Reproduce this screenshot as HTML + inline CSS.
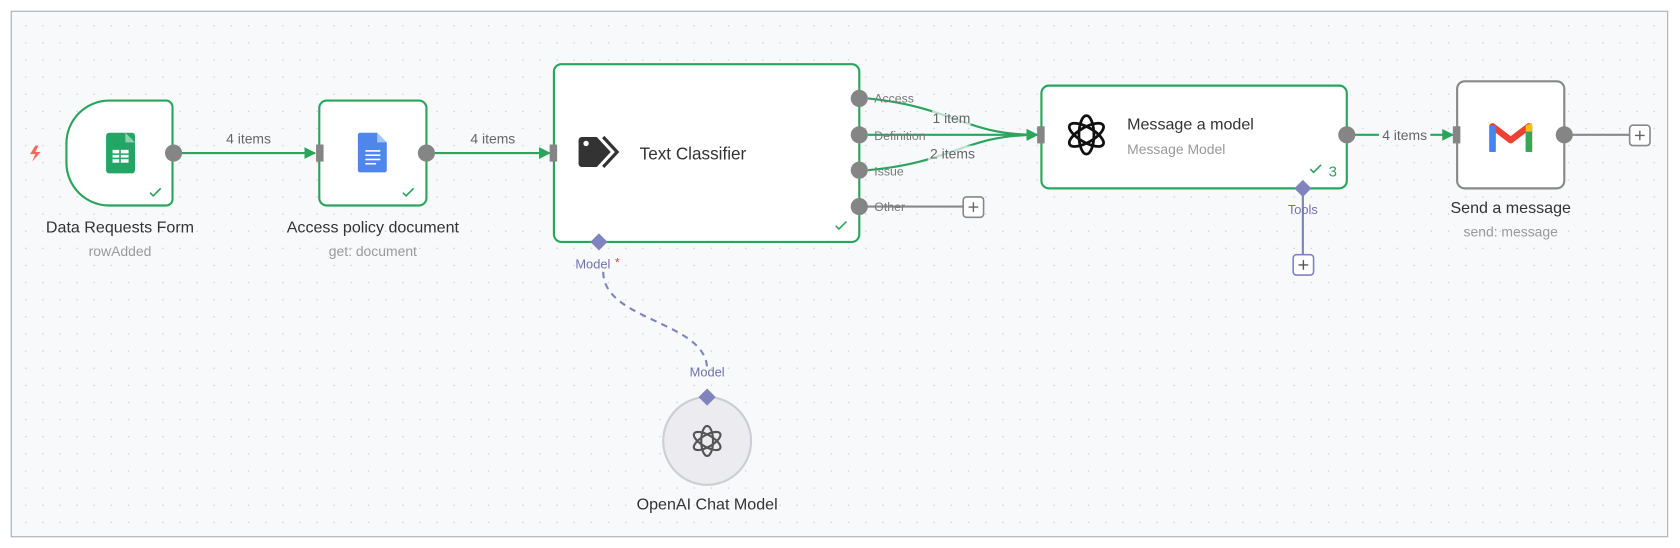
<!DOCTYPE html>
<html><head><meta charset="utf-8"><style>
html,body{margin:0;padding:0;background:#fff;}
svg{display:block;font-family:"Liberation Sans",sans-serif;}
</style></head><body>
<svg width="1680" height="548" viewBox="0 0 1568 512" preserveAspectRatio="none" xmlns="http://www.w3.org/2000/svg">
<defs>
<pattern id="dots" width="16" height="16" patternUnits="userSpaceOnUse"><circle cx="8" cy="8" r="0.7" fill="#c9ccd3"/></pattern>
<marker id="ag" viewBox="0 0 10 10" refX="9" refY="5" markerWidth="5.5" markerHeight="5.5" orient="auto"><path d="M0,0 L10,5 L0,10z" fill="#2aa55d"/></marker>
</defs>
<rect x="0" y="0" width="1568" height="512" fill="#fff"/>
<rect x="10.5" y="10.5" width="1546" height="491" fill="#f8f9fb" stroke="#aaa"/>
<rect x="11" y="11" width="1545" height="490" fill="url(#dots)"/>

<g stroke="#2aa55d" stroke-width="2" fill="none">
<line x1="162" y1="143" x2="294" y2="143" marker-end="url(#ag)"/>
<line x1="398" y1="143" x2="513" y2="143" marker-end="url(#ag)"/>
<path d="M810,92 C890,100 900,126 968,126" marker-end="url(#ag)"/>
<line x1="810" y1="126" x2="968" y2="126" marker-end="url(#ag)"/>
<path d="M810,159 C890,152 900,126 968,126" marker-end="url(#ag)"/>
<line x1="1257" y1="126" x2="1356" y2="126" marker-end="url(#ag)"/>
</g>
<line x1="802" y1="193" x2="899" y2="193" stroke="#888" stroke-width="2"/>
<line x1="1460" y1="126" x2="1521" y2="126" stroke="#888" stroke-width="2"/>
<line x1="1216" y1="176" x2="1216" y2="238" stroke="#8084bd" stroke-width="2"/>
<path d="M563,254 C563,300 660,300 660,345" stroke="#8084bd" stroke-width="2" stroke-dasharray="6,5" fill="none"/>

<g font-size="13" fill="#666" text-anchor="middle">
<rect x="208" y="120" width="48" height="16" fill="#f8f9fb"/><text x="232" y="134">4 items</text>
<rect x="436" y="120" width="48" height="16" fill="#f8f9fb"/><text x="460" y="134">4 items</text>
<rect x="870" y="103" width="36" height="14" fill="#f8f9fb" opacity="0.7"/><text x="888" y="115">1 item</text>
<rect x="866" y="136" width="46" height="14" fill="#f8f9fb" opacity="0.7"/><text x="889" y="148">2 items</text>
<rect x="1287" y="119" width="48" height="16" fill="#f8f9fb"/><text x="1311" y="131">4 items</text>
</g>

<path d="M102,94 H155 a6,6 0 0 1 6,6 V186 a6,6 0 0 1 -6,6 H102 a40,40 0 0 1 -40,-40 V134 a40,40 0 0 1 40,-40z" fill="#fff" stroke="#2aa55d" stroke-width="2"/>
<path d="M33,136 l-5,8 h5 l-3,7 l8,-9 h-5 l3,-6z" fill="#f56a5a"/>
<rect x="99" y="124" width="27" height="38" rx="3" fill="#23a566"/>
<path d="M117,124 l9,9 h-9z" fill="#8ed1b1"/>
<rect x="105" y="140" width="15" height="12" fill="#fff"/>
<g stroke="#23a566" stroke-width="1.5"><line x1="105" y1="144" x2="120" y2="144"/><line x1="105" y1="148" x2="120" y2="148"/><line x1="112" y1="140" x2="112" y2="152"/></g>
<path d="M140,180 l3,3 l7,-7" stroke="#2aa55d" stroke-width="1.5" fill="none"/>
<circle cx="162" cy="143" r="8" fill="#858585"/>
<text x="112" y="217" font-size="15" fill="#333" text-anchor="middle">Data Requests Form</text>
<text x="112" y="239" font-size="13" fill="#999" text-anchor="middle">rowAdded</text>

<rect x="298" y="94" width="100" height="98" rx="7" fill="#fff" stroke="#2aa55d" stroke-width="2"/>
<rect x="295" y="135" width="7" height="16" fill="#858585"/>
<path d="M336,124 h16 l9,9 v26 a2,2 0 0 1 -2,2 h-23 a2,2 0 0 1 -2,-2 v-33 a2,2 0 0 1 2,-2z" fill="#4f86ec"/>
<path d="M352,124 l9,9 h-9z" fill="#a6c5fa"/>
<g stroke="#fff" stroke-width="1.5"><line x1="341" y1="141" x2="355" y2="141"/><line x1="341" y1="145" x2="355" y2="145"/><line x1="341" y1="149" x2="355" y2="149"/><line x1="341" y1="153" x2="351" y2="153"/></g>
<path d="M376,180 l3,3 l7,-7" stroke="#2aa55d" stroke-width="1.5" fill="none"/>
<circle cx="398" cy="143" r="8" fill="#858585"/>
<text x="348" y="217" font-size="15" fill="#333" text-anchor="middle">Access policy document</text>
<text x="348" y="239" font-size="13" fill="#999" text-anchor="middle">get: document</text>

<rect x="517" y="60" width="285" height="166" rx="7" fill="#fff" stroke="#2aa55d" stroke-width="2"/>
<rect x="513" y="135" width="7" height="16" fill="#858585"/>
<path d="M543,128 h14 l13,14 l-13,14 h-14 a3,3 0 0 1 -3,-3 v-22 a3,3 0 0 1 3,-3z" fill="#333"/>
<circle cx="547" cy="134" r="2.5" fill="#fff"/>
<path d="M563,128 l13,14 l-13,14" stroke="#333" stroke-width="3" fill="none"/>
<text x="597" y="149" font-size="16" fill="#333">Text Classifier</text>
<path d="M780,211 l3,3 l7,-7" stroke="#2aa55d" stroke-width="1.5" fill="none"/>
<g fill="#858585"><circle cx="802" cy="92" r="8"/><circle cx="802" cy="126" r="8"/><circle cx="802" cy="159" r="8"/><circle cx="802" cy="193" r="8"/></g>
<g font-size="11.5" fill="#777"><text x="816" y="96">Access</text><text x="816" y="131">Definition</text><text x="816" y="164">Issue</text><text x="816" y="197">Other</text></g>
<rect x="899" y="184" width="19" height="19" rx="3" fill="#fff" stroke="#888" stroke-width="1.5"/>
<path d="M904,193.5 h9 M908.5,189 v9" stroke="#666" stroke-width="1.3"/>
<path d="M559,218 l8,8 l-8,8 l-8,-8z" fill="#8084bd"/>
<text x="537" y="251" font-size="12" fill="#6f73ad">Model</text><text x="574" y="249" font-size="11" fill="#e33">*</text>

<rect x="972" y="80" width="285" height="96" rx="7" fill="#fff" stroke="#2aa55d" stroke-width="2"/>
<rect x="968" y="118" width="7" height="16" fill="#858585"/>
<g transform="translate(1014,126)" stroke="#111" stroke-width="2.6" fill="none">
<ellipse rx="7" ry="18"/><ellipse rx="7" ry="18" transform="rotate(60)"/><ellipse rx="7" ry="18" transform="rotate(120)"/>
</g>
<text x="1052" y="121" font-size="15" fill="#333">Message a model</text>
<text x="1052" y="144" font-size="13" fill="#999">Message Model</text>
<path d="M1223,158 l3,3 l7,-7" stroke="#2aa55d" stroke-width="1.5" fill="none"/>
<text x="1240" y="165" font-size="14" fill="#2aa55d">3</text>
<circle cx="1257" cy="126" r="8" fill="#858585"/>
<path d="M1216,168 l8,8 l-8,8 l-8,-8z" fill="#8084bd"/>
<text x="1216" y="200" font-size="12" fill="#6f73ad" text-anchor="middle">Tools</text>
<rect x="1207" y="238" width="19" height="19" rx="3" fill="#fff" stroke="#8084bd" stroke-width="1.5"/>
<path d="M1212,247.5 h9 M1216.5,243 v9" stroke="#555" stroke-width="1.3"/>

<rect x="1360" y="76" width="100" height="100" rx="7" fill="#fff" stroke="#888" stroke-width="2"/>
<rect x="1356" y="118" width="7" height="16" fill="#858585"/>
<path d="M1393,141 v-23 l17,13 l17,-13 v23" stroke="#ea4335" stroke-width="6" fill="none" stroke-linejoin="round"/>
<rect x="1390" y="117" width="6" height="25" fill="#4285f4"/>
<rect x="1424" y="117" width="6" height="25" fill="#34a853"/>
<path d="M1424,117 l6,-2 v8 h-6z" fill="#fbbc04"/>
<circle cx="1460" cy="126" r="8" fill="#858585"/>
<rect x="1521" y="117" width="19" height="19" rx="3" fill="#fff" stroke="#888" stroke-width="1.5"/>
<path d="M1526,126.5 h9 M1530.5,122 v9" stroke="#666" stroke-width="1.3"/>
<text x="1410" y="199" font-size="15" fill="#333" text-anchor="middle">Send a message</text>
<text x="1410" y="221" font-size="13" fill="#999" text-anchor="middle">send: message</text>

<circle cx="660" cy="412" r="41" fill="#ebebf0" stroke="#cdcdd5" stroke-width="2"/>
<g transform="translate(660,412)" stroke="#555" stroke-width="2" fill="none">
<ellipse rx="5.5" ry="14"/><ellipse rx="5.5" ry="14" transform="rotate(60)"/><ellipse rx="5.5" ry="14" transform="rotate(120)"/>
</g>
<path d="M660,363 l8,8 l-8,8 l-8,-8z" fill="#8084bd"/>
<text x="660" y="352" font-size="12" fill="#6f73ad" text-anchor="middle">Model</text>
<text x="660" y="476" font-size="15" fill="#333" text-anchor="middle">OpenAI Chat Model</text>
</svg>
</body></html>
